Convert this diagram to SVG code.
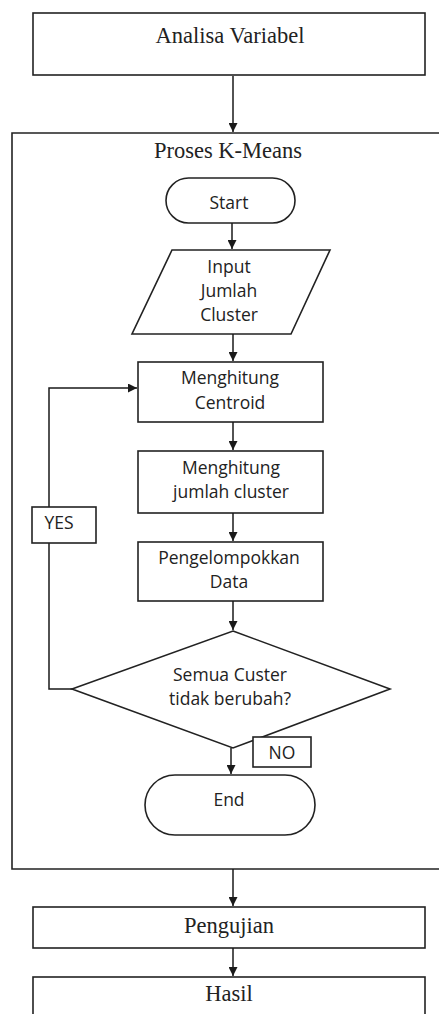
<svg xmlns="http://www.w3.org/2000/svg" width="439" height="1014" viewBox="0 0 439 1014">
<defs>
<marker id="arr" markerUnits="userSpaceOnUse" markerWidth="10" markerHeight="9" refX="9" refY="4.5" orient="auto">
<path d="M0,0 L9,4.5 L0,9 Z" fill="#1a1a1a"/>
</marker>
<style>
.box{fill:#fff;stroke:#222;stroke-width:1.6}
.cont{fill:none;stroke:#222;stroke-width:1.6}
.ln{fill:none;stroke:#1a1a1a;stroke-width:1.5}
.serif{font-family:"Liberation Serif","Times New Roman",serif;font-size:22.5px;fill:#222;text-anchor:middle}
.sans{font-family:"Open Sans","Liberation Sans",sans-serif;font-size:17.5px;fill:#222;text-anchor:middle}
</style>
</defs>
<rect width="439" height="1014" fill="#fff"/>

<g id="container">
<path class="cont" d="M445,133 L12,133 L12,869 L445,869"/>
<text class="serif" x="228" y="158">Proses K-Means</text>
</g>

<g id="analisa">
<rect class="box" x="33" y="13" width="392" height="62"/>
<text class="serif" x="230" y="43">Analisa Variabel</text>
</g>

<g id="start">
<rect class="box" x="166" y="178" width="129" height="45" rx="22.5"/>
<text class="sans" x="229" y="209">Start</text>
</g>

<g id="input">
<polygon class="box" points="172,250 330,250 291,334 132,334"/>
<text class="sans" x="229" y="273">Input</text>
<text class="sans" x="229" y="297">Jumlah</text>
<text class="sans" x="229" y="321">Cluster</text>
</g>

<g id="centroid">
<rect class="box" x="138" y="362" width="185" height="60"/>
<text class="sans" x="230" y="384">Menghitung</text>
<text class="sans" x="230" y="409">Centroid</text>
</g>

<g id="jumlah">
<rect class="box" x="138" y="451" width="185" height="62"/>
<text class="sans" x="231" y="474">Menghitung</text>
<text class="sans" x="231" y="498">jumlah cluster</text>
</g>

<g id="kelompok">
<rect class="box" x="138" y="542" width="185" height="59"/>
<text class="sans" x="229" y="564">Pengelompokkan</text>
<text class="sans" x="229" y="588">Data</text>
</g>

<g id="decision">
<polygon class="box" points="233,631 390,689 233,748 72,689"/>
<text class="sans" x="230" y="681">Semua Custer</text>
<text class="sans" x="230" y="705">tidak berubah?</text>
</g>

<g id="end">
<rect class="box" x="145" y="775" width="170" height="60" rx="30"/>
<text class="sans" x="229" y="806">End</text>
</g>

<g id="pengujian">
<rect class="box" x="33" y="907" width="392" height="41"/>
<text class="serif" x="229" y="933">Pengujian</text>
</g>

<g id="hasil">
<rect class="box" x="33" y="977" width="392" height="50"/>
<text class="serif" x="229" y="1001">Hasil</text>
</g>

<g id="connectors">
<line class="ln" x1="233" y1="76" x2="233" y2="132" marker-end="url(#arr)"/>
<line class="ln" x1="232" y1="223" x2="232" y2="249" marker-end="url(#arr)"/>
<line class="ln" x1="233" y1="334" x2="233" y2="361" marker-end="url(#arr)"/>
<line class="ln" x1="233" y1="422" x2="233" y2="450" marker-end="url(#arr)"/>
<line class="ln" x1="233" y1="513" x2="233" y2="541" marker-end="url(#arr)"/>
<line class="ln" x1="233" y1="601" x2="233" y2="630" marker-end="url(#arr)"/>
<line class="ln" x1="231" y1="748" x2="231" y2="774" marker-end="url(#arr)"/>
<path class="ln" d="M72,689 L49,689 L49,388 L137,388" marker-end="url(#arr)"/>
<line class="ln" x1="233" y1="869" x2="233" y2="906" marker-end="url(#arr)"/>
<line class="ln" x1="233" y1="948" x2="233" y2="976" marker-end="url(#arr)"/>
</g>

<g id="yes-label">
<rect class="box" x="32" y="507" width="64" height="36"/>
<text class="sans" x="59" y="529">YES</text>
</g>

<g id="no-label">
<rect class="box" x="253" y="737" width="58" height="30"/>
<text class="sans" x="282" y="759">NO</text>
</g>
</svg>
